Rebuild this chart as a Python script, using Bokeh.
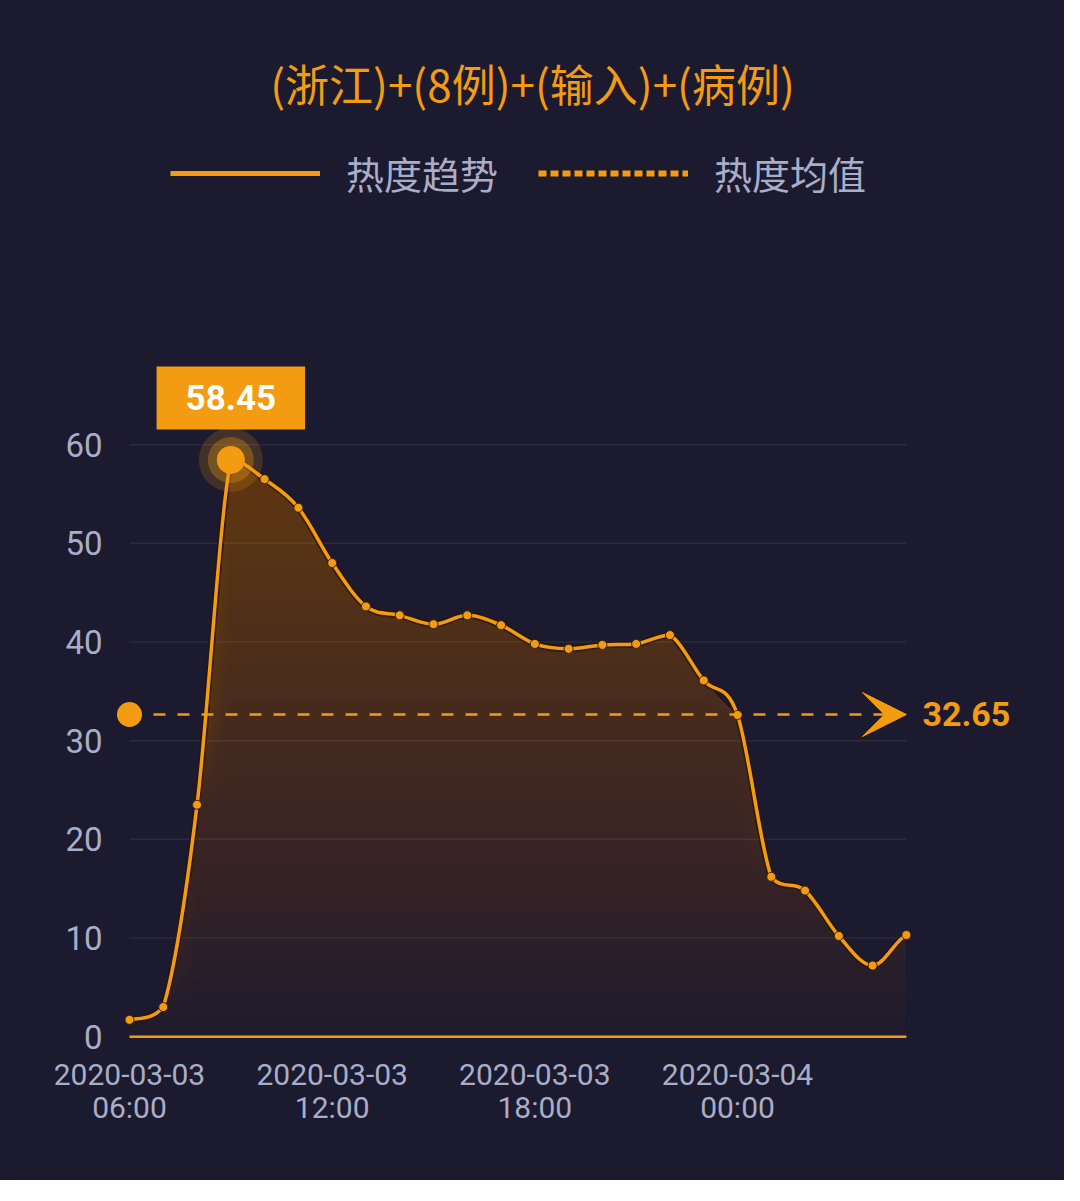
import numpy as np
from bokeh.plotting import figure
from bokeh.models import (Range1d, FixedTicker, Label, Legend, LegendItem,
                          Arrow, VeeHead)
from bokeh.embed import file_html
from bokeh.resources import INLINE

# ---------------- data ----------------
title_text = "(浙江)+(8例)+(输入)+(病例)"
series_name = "热度趋势"
mean_name = "热度均值"
times = [
    "2020-03-03 06:00", "2020-03-03 07:00", "2020-03-03 08:00", "2020-03-03 09:00",
    "2020-03-03 10:00", "2020-03-03 11:00", "2020-03-03 12:00", "2020-03-03 13:00",
    "2020-03-03 14:00", "2020-03-03 15:00", "2020-03-03 16:00", "2020-03-03 17:00",
    "2020-03-03 18:00", "2020-03-03 19:00", "2020-03-03 20:00", "2020-03-03 21:00",
    "2020-03-03 22:00", "2020-03-03 23:00", "2020-03-04 00:00", "2020-03-04 01:00",
    "2020-03-04 02:00", "2020-03-04 03:00", "2020-03-04 04:00", "2020-03-04 05:00",
]
heat = [1.7, 3.0, 23.5, 58.45, 56.5, 53.6, 48.0, 43.6, 42.7, 41.8, 42.7, 41.7,
        39.8, 39.3, 39.7, 39.8, 40.7, 36.1, 32.6, 16.2, 14.8, 10.2, 7.2, 10.3]
mean_value = 32.65
y_ticks = [0, 10, 20, 30, 40, 50, 60]
x_tick_idx = [0, 6, 12, 18]

# ---------------- style ----------------
BG = "#1c1a2e"
ORANGE = "#f39c12"
LABEL = "#a9aec8"
FILL = "#c27218"

xs = np.arange(len(heat), dtype=float)
hv = np.array(heat, dtype=float)

p = figure(width=1064, height=1180,
           x_range=Range1d(-0.503, 26.97), y_range=Range1d(-1.0, 104.0),
           output_backend="svg", toolbar_location=None,
           min_border_left=112, min_border_right=24,
           min_border_top=10, min_border_bottom=134,
           border_fill_color=BG)
p.styles = {"background-color": BG}
p.background_fill_alpha = 0
p.outline_line_color = None
p.xgrid.visible = False
p.ygrid.visible = False

# axes
p.yaxis.ticker = FixedTicker(ticks=y_ticks)
p.yaxis.axis_line_color = None
p.yaxis.major_tick_line_color = None
p.yaxis.minor_tick_line_color = None
p.yaxis.major_label_standoff = 4
p.yaxis.major_label_text_font = "Roboto"
p.yaxis.major_label_text_font_size = "33px"
p.yaxis.major_label_text_color = LABEL

p.xaxis.ticker = FixedTicker(ticks=x_tick_idx)
p.xaxis.major_label_overrides = {i: times[i].replace(" ", "\n") for i in x_tick_idx}
p.xaxis.axis_line_color = None
p.xaxis.major_tick_line_color = None
p.xaxis.minor_tick_line_color = None
p.xaxis.major_label_standoff = 4
p.xaxis.major_label_text_font = "Roboto"
p.xaxis.major_label_text_font_size = "30px"
p.xaxis.major_label_text_color = LABEL
p.xaxis.major_label_text_line_height = 0.95

# gradient-like area fill (stacked translucent layers)
for lv in np.arange(0, 60, 2):
    p.varea(x=xs, y1=np.minimum(hv, lv), y2=hv, fill_color=FILL, fill_alpha=0.019)

# grid lines
gy = np.array(y_ticks[1:], dtype=float)
p.segment(x0=np.full(len(gy), xs[0]), x1=np.full(len(gy), xs[-1]), y0=gy, y1=gy,
          line_color="#ffffff", line_alpha=0.07, line_width=1.5)

# baseline
p.segment(x0=[xs[0]], y0=[0], x1=[xs[-1]], y1=[0], line_color=ORANGE, line_width=2.5)

# smooth line via bezier segments
k = 0.17
prev = np.r_[hv[0], hv[:-1]]
nxt = np.r_[hv[1:], hv[-1]]
tang = nxt - prev
y0s, y1s = hv[:-1], hv[1:]
lo = np.minimum(y0s, y1s)
hi = np.maximum(y0s, y1s)
cy0 = np.clip(y0s + tang[:-1] * k, lo, hi)
cy1 = np.clip(y1s - tang[1:] * k, lo, hi)
cx0 = xs[:-1] + 1 / 3
cx1 = xs[1:] - 1 / 3
p.bezier(x0=xs[:-1], y0=y0s, x1=xs[1:], y1=y1s, cx0=cx0, cy0=cy0, cx1=cx1, cy1=cy1,
         line_color="#2a1608", line_alpha=0.7, line_width=7)
p.bezier(x0=xs[:-1], y0=y0s, x1=xs[1:], y1=y1s, cx0=cx0, cy0=cy0, cx1=cx1, cy1=cy1,
         line_color=ORANGE, line_width=3.5)

# points
p.scatter(xs, hv, size=9, fill_color=ORANGE, line_color="#3a2410", line_width=1)

# mean line with arrow
p.add_layout(Arrow(x_start=xs[0], y_start=mean_value, x_end=xs[-1], y_end=mean_value,
                   line_color=ORANGE, line_width=2.5, line_dash="12 12",
                   end=VeeHead(size=44, fill_color=ORANGE, line_color=ORANGE)))
p.scatter([xs[0]], [mean_value], size=25, fill_color=ORANGE, line_color=None)
p.add_layout(Label(x=xs[-1], y=mean_value, x_offset=16, text=f"{mean_value:.2f}",
                   text_baseline="middle", text_align="left",
                   text_font="Roboto", text_font_style="bold",
                   text_font_size="34px", text_color=ORANGE))

# peak highlight
idx = int(np.argmax(hv))
p.scatter([xs[idx]], [hv[idx]], size=64, fill_color=ORANGE, fill_alpha=0.18, line_color=None)
p.scatter([xs[idx]], [hv[idx]], size=46, fill_color=ORANGE, fill_alpha=0.3, line_color=None)
p.scatter([xs[idx]], [hv[idx]], size=28, fill_color=ORANGE, line_color=None)
p.add_layout(Label(x=xs[idx], y=hv[idx], y_offset=62, text=f"{hv[idx]:.2f}",
                   text_align="center", text_baseline="middle",
                   text_font="Roboto", text_font_style="bold",
                   text_font_size="35px", text_color="#ffffff",
                   background_fill_color=ORANGE, padding=(29, 29, 19, 19)))

# title
p.add_layout(Label(x=420, y=964, x_units="screen", y_units="screen", text=title_text,
                   text_align="center", text_baseline="middle",
                   text_font="Noto Sans CJK SC", text_font_size="44px",
                   text_color=ORANGE))

# legend (proxy renderers carry the legend styling)
r1 = p.line(x=[xs[0]], y=[hv[0]], line_color=ORANGE, line_width=5)
r2 = p.line(x=[xs[0]], y=[hv[0]], line_color=ORANGE, line_width=6, line_dash="8 4")
legend = Legend(items=[LegendItem(label=series_name, renderers=[r1]),
                       LegendItem(label=mean_name, renderers=[r2])],
                orientation="horizontal", location=(58, 846),
                glyph_width=150, glyph_height=40, label_height=40,
                label_standoff=26, spacing=40, padding=0, margin=0,
                border_line_color=None, background_fill_alpha=0,
                label_text_font="Noto Sans CJK SC", label_text_font_size="38px",
                label_text_color=LABEL)
p.add_layout(legend)

open("out.html", "w").write(file_html(p, INLINE))
